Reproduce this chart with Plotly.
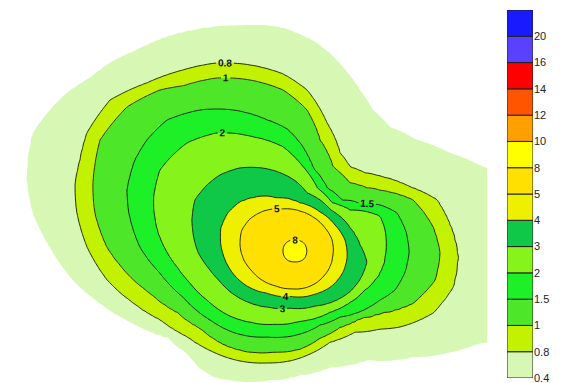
import numpy as np
import plotly.graph_objects as go

# Concentration classes and their fill colours (lowest band first)
levels = [0.4, 0.8, 1, 1.5, 2, 3, 4, 5, 8, 10, 12, 14, 16, 20]
level_text = ["0.4", "0.8", "1", "1.5", "2", "3", "4", "5", "8", "10", "12", "14", "16", "20"]
band_colors = ["#d6f8b4", "#c2f200", "#4ee628", "#1ef028", "#86f41a", "#10c848", "#eef000",
               "#ffe000", "#ffff00", "#ffa000", "#ff5500", "#ff0000", "#5a40ff", "#1a1aff"]
labelled_levels = [0.8, 1, 1.5, 2, 3, 4, 5, 8]

# Source location and peak value
source_x, source_y = 295, 251
peak_value = 9.0

# Digitised isolines (map units, y increasing southward)
iso_8_x = [307, 304, 295, 286, 283, 286, 295, 304]
iso_8_y = [251, 243, 240, 243, 251, 259, 262, 259]

iso_5_x = [333, 332, 325, 313, 300, 282, 264, 250, 242, 240, 244, 252, 262, 276, 292, 308, 322, 330]
iso_5_y = [252, 240, 228, 217, 211, 209, 211, 219, 230, 245, 260, 271, 280, 286, 289, 287, 278, 266]

iso_4_x = [347, 345, 335, 320, 300, 277, 257, 240, 228, 221, 221, 226, 235, 247, 267, 290, 315, 333, 343]
iso_4_y = [257, 240, 225, 212, 203, 198, 197, 202, 213, 228, 245, 262, 276, 286, 293, 296, 294, 285, 272]

iso_3_x = [367, 360, 350, 331, 307, 298, 283, 262, 240, 220, 207, 195, 192, 194, 198, 207, 218, 232,
           248, 268, 290, 315, 335, 350, 361]
iso_3_y = [262, 245, 228, 210, 193, 183, 174, 168, 168, 175, 185, 200, 220, 238, 252, 266, 279, 293,
           302, 307, 308, 306, 301, 292, 278]

iso_2_x = [386, 385, 380, 368, 350, 332, 317, 303, 283, 253, 217, 187, 170, 160, 154, 154, 158, 167,
           178, 190, 207, 228, 250, 275, 300, 330, 350, 365, 378, 384]
iso_2_y = [245, 230, 216, 212, 210, 203, 188, 167, 147, 137, 133, 143, 158, 170, 195, 210, 232, 252,
           268, 283, 300, 315, 322, 324, 321, 312, 302, 290, 276, 262]

iso_15_x = [409, 405, 395, 380, 360, 340, 320, 300, 267, 235, 210, 183, 160, 140, 129, 127, 135, 147,
            167, 200, 233, 267, 287, 300, 313, 327, 342, 362, 380, 397, 406]
iso_15_y = [252, 272, 290, 300, 312, 317, 325, 334, 337, 333, 320, 297, 273, 247, 213, 190, 160, 140,
            120, 110, 110, 120, 129, 143, 168, 188, 200, 204, 205, 213, 232]

iso_1_x = [440, 435, 413, 380, 360, 340, 320, 300, 275, 250, 225, 200, 177, 150, 127, 107, 95, 93,
           100, 127, 160, 183, 217, 250, 283, 307, 320, 333, 350, 367, 383, 413, 433]
iso_1_y = [253, 280, 303, 313, 318, 327, 338, 349, 352, 352, 345, 328, 312, 293, 273, 247, 213, 185,
           140, 107, 90, 86, 78, 80, 90, 110, 140, 167, 183, 188, 191, 200, 227]

iso_08_x = [458, 453, 433, 400, 380, 355, 330, 310, 290, 267, 240, 213, 187, 160, 133, 107, 87, 77,
            75, 80, 87, 110, 147, 183, 217, 250, 283, 307, 327, 340, 350, 365, 383, 410, 437, 453]
iso_08_y = [257, 287, 313, 327, 329, 332, 342, 354, 361, 363, 361, 352, 337, 320, 303, 280, 247, 213,
            185, 160, 133, 100, 83, 70, 63, 65, 74, 90, 123, 153, 167, 173, 177, 187, 200, 233]

iso_04_x = [483, 530, 560, 530, 480, 447, 413, 368, 331, 300, 270, 240, 215, 200, 187, 167, 133, 100,
            73, 50, 33, 27, 28, 33, 50, 67, 90, 110, 133, 167, 200, 233, 260, 283, 317, 343, 360,
            373, 390, 417, 450]
iso_04_y = [167, 180, 260, 335, 343, 353, 357, 360, 367, 375, 380, 381, 377, 368, 353, 337, 323, 303,
            280, 247, 213, 180, 160, 133, 110, 93, 78, 63, 52, 37, 29, 26, 25, 28, 43, 67, 90,
            110, 127, 140, 153]

# Isolines from the innermost (highest) class outward, with their class index
isolines = [
    (8, iso_8_x, iso_8_y),
    (7, iso_5_x, iso_5_y),
    (6, iso_4_x, iso_4_y),
    (5, iso_3_x, iso_3_y),
    (4, iso_2_x, iso_2_y),
    (3, iso_15_x, iso_15_y),
    (2, iso_1_x, iso_1_y),
    (1, iso_08_x, iso_08_y),
    (0, iso_04_x, iso_04_y),
]

# Computation grid (map extent ends at x = 488)
gx = np.arange(0.0, 489.0, 2.5)
gy = np.arange(0.0, 392.0, 2.5)
X, Y = np.meshgrid(gx, gy)
ang = np.arctan2(source_y - Y, X - source_x)
dist = np.hypot(X - source_x, source_y - Y)


def isoline_radius(xs, ys, theta):
    xs = np.asarray(xs, float)
    ys = np.asarray(ys, float)
    a = np.arctan2(source_y - ys, xs - source_x)
    r = np.hypot(xs - source_x, source_y - ys)
    order = np.argsort(a)
    return np.interp(theta, a[order], r[order], period=2 * np.pi)


# Radial knots: class index as a function of distance along each bearing
knot_r = [np.zeros_like(dist)]
knot_v = [np.interp(peak_value, levels, np.arange(len(levels)))]
for k, xs, ys in isolines:
    knot_r.append(isoline_radius(xs, ys, ang))
    knot_v.append(float(k))
knot_r.append(knot_r[-1] * 1.4)
knot_v.append(-1.0)

idx = np.full(dist.shape, -1.0)
for j in range(len(knot_r) - 1):
    r0, r1 = knot_r[j], knot_r[j + 1]
    m = (dist >= r0) & (dist < r1)
    t = (dist[m] - r0[m]) / np.maximum(r1[m] - r0[m], 1e-9)
    idx[m] = knot_v[j] + t * (knot_v[j + 1] - knot_v[j])

# Concentration values (below the lowest class they fall off linearly)
conc = np.where(idx >= 0, np.interp(idx, np.arange(len(levels)), levels), levels[0] * (1 + 0.5 * idx))
idx = np.round(idx, 4)
conc = np.round(conc, 4)

n = len(levels)
colorscale = [[0.0, "#ffffff"]] + [[(i + 1) / n, c] for i, c in enumerate(band_colors)]

fig = go.Figure()

# Filled classes
fig.add_trace(go.Contour(
    x=gx, y=gy, z=idx,
    autocontour=False,
    contours=dict(start=0, end=n - 1, size=1, coloring="fill", showlines=False),
    colorscale=colorscale,
    line=dict(width=0),
    showscale=False,
    hoverinfo="skip",
))

# Labelled isolines
for lv in labelled_levels:
    fig.add_trace(go.Contour(
        x=gx, y=gy, z=conc,
        autocontour=False,
        contours=dict(start=lv, end=lv, size=1, coloring="none", showlabels=True,
                      labelformat=".1~f",
                      labelfont=dict(size=10, color="#111111", family="Arial", weight="bold")),
        line=dict(color="#1a1a1a", width=0.9),
        showscale=False,
        hoverinfo="skip",
    ))

# Class legend as stacked bars
fig.add_trace(go.Bar(
    x=[0] * n, y=[1] * n, base=list(range(n)),
    width=1,
    marker=dict(color=band_colors, line=dict(color="#202020", width=1)),
    xaxis="x2", yaxis="y2",
    hoverinfo="skip",
    showlegend=False,
))

fig.update_layout(
    width=570, height=383,
    margin=dict(l=0, r=0, t=0, b=0, autoexpand=False),
    paper_bgcolor="white",
    plot_bgcolor="rgba(0,0,0,0)",
    showlegend=False,
    xaxis=dict(domain=[0, 1], range=[0, 570], visible=False, fixedrange=True),
    yaxis=dict(domain=[0, 1], range=[383, 0], visible=False, fixedrange=True),
    xaxis2=dict(domain=[507 / 570, 533 / 570], range=[-0.5, 0.5], visible=False, anchor="y2"),
    yaxis2=dict(domain=[1 - 378 / 383, 1 - 10 / 383], range=[0, n], anchor="x2", side="right",
                tickvals=list(range(n)), ticktext=level_text, ticks="",
                ticklabeloverflow="allow", automargin=False,
                showgrid=False, zeroline=False, showline=False,
                tickfont=dict(size=11, family="Arial", color="#222222")),
)

fig.write_html("out.html")
